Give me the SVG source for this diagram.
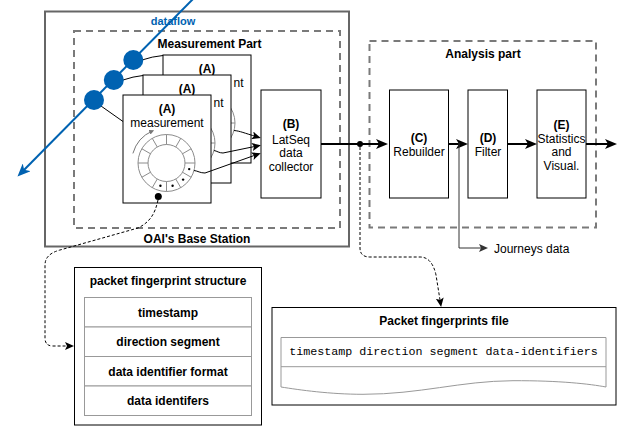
<svg xmlns="http://www.w3.org/2000/svg" width="621" height="427" viewBox="0 0 621 427">
<style>
text{font-family:"Liberation Sans",Arial,sans-serif;font-size:12px;fill:#000;text-anchor:middle}
.b{font-weight:bold}
.st{text-anchor:start}
.box{fill:#fff;stroke:#000;stroke-width:1}
.dash{fill:none;stroke:#7a7a7a;stroke-width:2;stroke-dasharray:7 5}
.ring{fill:none;stroke:#8c8c8c;stroke-width:1}
.thick{fill:none;stroke:#000;stroke-width:2}
.thin{fill:none;stroke:#000;stroke-width:1}
.dot{fill:none;stroke:#000;stroke-width:1;stroke-dasharray:3 2}
.cell{fill:#fff;stroke:#999;stroke-width:1}
</style>
<defs>
<marker id="ahT" markerUnits="userSpaceOnUse" markerWidth="12" markerHeight="10" refX="8" refY="5" orient="auto"><path d="M0,0 L12,5 L0,10 L3,5 Z" fill="#000"/></marker>
<marker id="ahS" markerUnits="userSpaceOnUse" markerWidth="9" markerHeight="8" refX="5" refY="4" orient="auto"><path d="M0,0 L9,4 L0,8 L2,4 Z" fill="#000"/></marker>
<marker id="ahG" markerUnits="userSpaceOnUse" markerWidth="9" markerHeight="8" refX="5" refY="4" orient="auto"><path d="M0,0 L9,4 L0,8 L2,4 Z" fill="#333"/></marker>
<marker id="ahB" markerUnits="userSpaceOnUse" markerWidth="13" markerHeight="11" refX="8" refY="5.5" orient="auto"><path d="M0,0 L13,5.5 L0,11 L3.5,5.5 Z" fill="#0062B1"/></marker>
<marker id="ahR" markerUnits="userSpaceOnUse" markerWidth="5" markerHeight="5" refX="3" refY="2.5" orient="auto"><path d="M0,0 L5,2.5 L0,5 Z" fill="#777"/></marker>
<g id="ring">
<circle r="28.5" class="ring"/>
<circle r="18.5" class="ring"/>
<path class="ring" d="M18.5,0L28.5,0M16.02,9.25L24.68,14.25M9.25,16.02L14.25,24.68M0,18.5L0,28.5M-9.25,16.02L-14.25,24.68M-16.02,9.25L-24.68,14.25M-18.5,0L-28.5,0M-16.02,-9.25L-24.68,-14.25M-9.25,-16.02L-14.25,-24.68M0,-18.5L0,-28.5M9.25,-16.02L14.25,-24.68M16.02,-9.25L24.68,-14.25"/>
<path d="M-33.6,-9.6 A35,35 0 0 1 -14.2,-32" fill="none" stroke="#777" stroke-width="1" marker-end="url(#ahR)"/>
<g fill="#000"><circle cx="22.7" cy="6.08" r="1.2"/><circle cx="16.62" cy="16.62" r="1.2"/><circle cx="6.08" cy="22.7" r="1.2"/><circle cx="-6.08" cy="22.7" r="1.2"/></g>
</g>
</defs>
<rect width="621" height="427" fill="#fff"/>
<g id="containers">
<g id="oai-base-station">
<rect x="45" y="11.5" width="304" height="235" fill="none" stroke="#666" stroke-width="2"/>
<text x="197" y="242.5" class="b">OAI's Base Station</text>
</g>
<g id="measurement-part">
<rect x="74" y="31" width="266" height="197" class="dash"/>
<text x="209.5" y="48" class="b">Measurement Part</text>
</g>
<g id="analysis-part">
<rect x="369.5" y="41" width="226.5" height="186.5" class="dash"/>
<text x="483" y="58" class="b">Analysis part</text>
</g>
</g>
<g id="node-a3">
<rect x="163" y="55" width="88" height="108" class="box"/>
<text x="207" y="72.5" class="b">(A)</text>
<text x="233.5" y="86.5" class="st">nt</text>
<use href="#ring" x="206.5" y="123"/>
</g>
<g id="node-a2">
<rect x="143" y="75" width="88" height="108" class="box"/>
<text x="187" y="92.5" class="b">(A)</text>
<text x="213.5" y="106.5" class="st">nt</text>
<use href="#ring" x="186.5" y="143"/>
</g>
<g id="node-a1">
<rect x="123" y="95" width="88" height="108" class="box"/>
<text x="167" y="112.5" class="b">(A)</text>
<text x="167" y="126.5">measurement</text>
<use href="#ring" x="166.5" y="163"/>
<circle cx="158.3" cy="196.5" r="3.5" fill="#000"/>
</g>
<g id="node-b">
<rect x="261" y="90" width="60" height="108" class="box"/>
<text x="291" y="127.5" class="b">(B)</text>
<text x="291" y="143.5">LatSeq</text>
<text x="291" y="157">data</text>
<text x="291" y="170.5">collector</text>
</g>
<g id="node-c">
<rect x="389.5" y="90" width="59" height="108" class="box"/>
<text x="419" y="142" class="b">(C)</text>
<text x="419" y="156">Rebuilder</text>
</g>
<g id="node-d">
<rect x="468" y="90" width="39.5" height="108" class="box"/>
<text x="488" y="142" class="b">(D)</text>
<text x="488" y="156">Filter</text>
</g>
<g id="node-e">
<rect x="537" y="90" width="49" height="108" class="box"/>
<text x="561.5" y="128.5" class="b">(E)</text>
<text x="561.5" y="142.5">Statistics</text>
<text x="561.5" y="156">and</text>
<text x="561.5" y="170">Visual.</text>
</g>
<g id="node-fingerprint-structure">
<rect x="74.5" y="267.5" width="187" height="157.5" class="box"/>
<text x="168" y="285" class="b">packet fingerprint structure</text>
<rect x="84.5" y="297.5" width="167" height="29.5" class="cell"/>
<rect x="84.5" y="327" width="167" height="29.5" class="cell"/>
<rect x="84.5" y="356.5" width="167" height="29.5" class="cell"/>
<rect x="84.5" y="386" width="167" height="29.5" class="cell"/>
<text x="168" y="316.5" class="b">timestamp</text>
<text x="168" y="346" class="b">direction segment</text>
<text x="168" y="375.5" class="b">data identifier format</text>
<text x="168" y="405" class="b">data identifers</text>
</g>
<g id="node-fingerprints-file">
<rect x="272" y="307.5" width="344" height="97.5" class="box"/>
<text x="444" y="325" class="b">Packet fingerprints file</text>
<path d="M281,337.5 H606 V387 C590,384 560,380.5 513,380.7 C460,381 420,394.3 363,394.3 C330,394.3 300,390 281,387 Z" class="cell"/>
<line x1="281" y1="366.7" x2="606" y2="366.7" stroke="#999" stroke-width="1"/>
<text x="443.5" y="354.7" style="font-family:'Liberation Mono','Courier New',monospace;font-size:11.7px">timestamp direction segment data-identifiers</text>
</g>
<g id="connectors">
<path d="M193,-1 L21,173" fill="none" stroke="#0062B1" stroke-width="2" marker-end="url(#ahB)"/>
<text x="173" y="24.5" class="b" style="font-size:11px;fill:#0062B1">dataflow</text>
<path d="M142,60 Q152,56.5 163,55.5" class="thin" stroke="#222"/>
<path d="M123,80 Q133,76.5 143,75.5" class="thin" stroke="#222"/>
<path d="M101,106 L123,121.5" class="thin" stroke="#222"/>
<path d="M234,130.5 C240,131 244,133 257,136.8" class="thin" marker-end="url(#ahS)"/>
<path d="M214,150.5 C217,151 219,153 223,153 L257,146" class="thin" marker-end="url(#ahS)"/>
<path d="M194,170.5 C198,171 200,173 205,173 L257,154.5" class="thin" marker-end="url(#ahS)"/>
<path d="M321,144 H384" class="thick" marker-end="url(#ahT)"/>
<circle cx="360" cy="144" r="3" fill="#000"/>
<path d="M448.5,144 H464" class="thick" marker-end="url(#ahT)"/>
<path d="M507.5,144 H533" class="thick" marker-end="url(#ahT)"/>
<path d="M586,144 H613" class="thick" marker-end="url(#ahT)"/>
<path d="M459,142.5 V248 H484" fill="none" stroke="#333" stroke-width="1" marker-end="url(#ahG)"/>
<text x="494" y="252.5" class="st">Journeys data</text>
<path d="M360,147 V248 Q360,257 370,257 H420 Q432,257 436,275 L440.5,303" class="dot" marker-end="url(#ahS)"/>
<path d="M158,200 C155,214 150,222 138,228 L60,250 Q45,254 45,265 L45,338 Q45,346 53,346 L70,346" class="dot" marker-end="url(#ahS)"/>
</g>
<g id="dataflow-points" fill="#0062B1">
<circle cx="133.3" cy="60" r="10"/>
<circle cx="113.8" cy="80" r="10"/>
<circle cx="94" cy="100" r="10"/>
</g>
</svg>
